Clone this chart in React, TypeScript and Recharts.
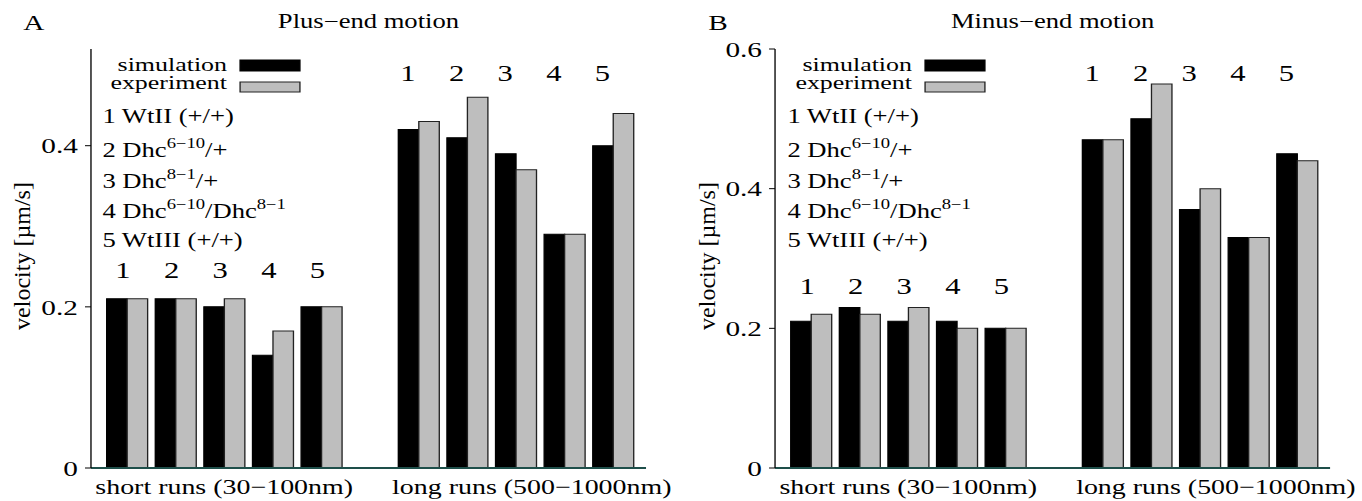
import React from "react";
import { BarChart, Bar, XAxis, YAxis, ReferenceDot } from "recharts";

// the reference is a 1024px wide figure stretched to 1362px, so everything is laid out at 1024 and scaled
const STRETCH = 1362 / 1024;
const SERIF = '"Liberation Serif", "Times New Roman", serif';

const strains = ["1", "2", "3", "4", "5"];
const groupTitles = ["short runs (30\u2212100nm)", "long runs (500\u22121000nm)"];

const plusSimShort = [0.21, 0.21, 0.2, 0.14, 0.2];
const plusExpShort = [0.21, 0.21, 0.21, 0.17, 0.2];
const plusSimLong = [0.42, 0.41, 0.39, 0.29, 0.4];
const plusExpLong = [0.43, 0.46, 0.37, 0.29, 0.44];

const minusSimShort = [0.21, 0.23, 0.21, 0.21, 0.2];
const minusExpShort = [0.22, 0.22, 0.23, 0.2, 0.2];
const minusSimLong = [0.47, 0.5, 0.37, 0.33, 0.45];
const minusExpLong = [0.47, 0.55, 0.4, 0.33, 0.44];

const plusTicks = [0, 0.2, 0.4];
const minusTicks = [0, 0.2, 0.4, 0.6];
// heights of the "1 2 3 4 5" labels above each group
const plusLabelHeights = [0.245, 0.49];
const minusLabelHeights = [0.26, 0.565];

const legendSeries = ["simulation", "experiment"];

type Row = { key: string; sim: number | null; exp: number | null };

function buildRows(simShort: number[], expShort: number[], simLong: number[], expLong: number[]): Row[] {
  const rows: Row[] = [];
  strains.forEach((s, i) => rows.push({ key: `short-${s}`, sim: simShort[i], exp: expShort[i] }));
  rows.push({ key: "gap", sim: null, exp: null });
  strains.forEach((s, i) => rows.push({ key: `long-${s}`, sim: simLong[i], exp: expLong[i] }));
  return rows;
}

const plusRows = buildRows(plusSimShort, plusExpShort, plusSimLong, plusExpLong);
const minusRows = buildRows(minusSimShort, minusExpShort, minusSimLong, minusExpLong);

function GroupTick(props: any) {
  const { x, y, payload } = props;
  let label = "";
  let shift = 0;
  if (payload.value === "short-3") label = groupTitles[0];
  if (payload.value === "long-3") {
    label = groupTitles[1];
    shift = 12;
  }
  if (!label) return null;
  return (
    <text x={x + shift} y={y} dy={26} textAnchor="middle" fontFamily={SERIF} fontSize={21} fill="#000">
      {label}
    </text>
  );
}

function StrainLabel(props: any) {
  const { viewBox, text, shift } = props;
  const cx = viewBox.x + viewBox.width / 2;
  const cy = viewBox.y + viewBox.height / 2;
  return (
    <text x={cx + shift} y={cy} textAnchor="middle" dominantBaseline="central" fontFamily={SERIF} fontSize={23} fill="#000">
      {text}
    </text>
  );
}

function Panel({
  rows,
  domainMax,
  ticks,
  labelHeights,
  marginLeft,
  marginRight,
}: {
  rows: Row[];
  domainMax: number;
  ticks: number[];
  labelHeights: number[];
  marginLeft: number;
  marginRight: number;
}) {
  return (
    <BarChart
      width={512}
      height={501}
      data={rows}
      margin={{ top: 49, right: marginRight, bottom: 3, left: marginLeft }}
      barGap={0}
      barSize={15.4}
    >
      <XAxis
        dataKey="key"
        interval={0}
        padding={{ left: 8.8, right: 6.5 }}
        tickLine={false}
        tickSize={0}
        tickMargin={0}
        axisLine={{ stroke: "#1e4f4a", strokeWidth: 2 }}
        tick={<GroupTick />}
        height={30}
      />
      <XAxis
        xAxisId="top"
        orientation="top"
        dataKey="key"
        tick={false}
        tickLine={false}
        axisLine={{ stroke: "#000" }}
        height={0}
      />
      <YAxis
        type="number"
        domain={[0, domainMax]}
        ticks={ticks}
        width={50}
        tickSize={4.5}
        tickMargin={5.3}
        axisLine={{ stroke: "#000" }}
        tickLine={{ stroke: "#000" }}
        tick={{ fontFamily: SERIF, fontSize: 22, fill: "#000" }}
      />
      <YAxis
        yAxisId="right"
        orientation="right"
        type="number"
        mirror
        domain={[0, domainMax]}
        ticks={ticks.filter((t) => t > 0 && t < domainMax)}
        width={0}
        tickSize={4.5}
        tick={false}
        axisLine={{ stroke: "#000" }}
        tickLine={{ stroke: "#000" }}
      />
      <Bar dataKey="sim" fill="#000" stroke="#000" strokeWidth={1} isAnimationActive={false} />
      <Bar dataKey="exp" fill="#bebebe" stroke="#222" strokeWidth={1} isAnimationActive={false} />
      {strains.map((s) => (
        <ReferenceDot
          key={`ls-${s}`}
          x={`short-${s}`}
          y={labelHeights[0]}
          r={1}
          fill="none"
          stroke="none"
          label={<StrainLabel text={s} shift={-3} />}
        />
      ))}
      {strains.map((s) => (
        <ReferenceDot
          key={`ll-${s}`}
          x={`long-${s}`}
          y={labelHeights[1]}
          r={1}
          fill="none"
          stroke="none"
          label={<StrainLabel text={s} shift={-8} />}
        />
      ))}
    </BarChart>
  );
}

function Sup({ children }: { children: React.ReactNode }) {
  return (
    <tspan fontSize={14} dy={-9}>
      {children}
    </tspan>
  );
}

function Annotations({ dx, letter, title, titleX }: { dx: number; letter: string; title: string; titleX: number }) {
  const base = { fontFamily: SERIF, fill: "#000" } as const;
  return (
    <g>
      <text x={dx + 17.5} y={30} fontSize={22} {...base}>
        {letter}
      </text>
      <text x={titleX} y={28} fontSize={20} textAnchor="middle" {...base}>
        {title}
      </text>
      <text
        transform={`translate(${dx + 16.5},256) scale(${1 / STRETCH},1) rotate(-90)`}
        textAnchor="middle"
        dominantBaseline="central"
        fontSize={24}
        {...base}
      >
        velocity [{"\u00b5"}m/s]
      </text>
      <text x={dx + 170.7} y={71} fontSize={19.5} textAnchor="end" {...base}>
        {legendSeries[0]}
      </text>
      <rect x={dx + 180.5} y={60} width={45} height={11} fill="#000" stroke="#000" />
      <text x={dx + 170.7} y={89} fontSize={19.5} textAnchor="end" {...base}>
        {legendSeries[1]}
      </text>
      <rect x={dx + 180.5} y={82} width={45} height={10} fill="#bebebe" stroke="#222" />
      <text x={dx + 77} y={123} fontSize={20} {...base}>
        1 WtII (+/+)
      </text>
      <text x={dx + 77} y={157} fontSize={20} {...base}>
        2 Dhc<Sup>6{"\u2212"}10</Sup>
        <tspan dy={9}>/+</tspan>
      </text>
      <text x={dx + 77} y={188} fontSize={20} {...base}>
        3 Dhc<Sup>8{"\u2212"}1</Sup>
        <tspan dy={9}>/+</tspan>
      </text>
      <text x={dx + 77} y={218} fontSize={20} {...base}>
        4 Dhc<Sup>6{"\u2212"}10</Sup>
        <tspan dy={9}>/Dhc</tspan>
        <Sup>8{"\u2212"}1</Sup>
      </text>
      <text x={dx + 77} y={247} fontSize={20} {...base}>
        5 WtIII (+/+)
      </text>
    </g>
  );
}

export default function App() {
  return (
    <div
      style={{
        position: "absolute",
        left: 0,
        top: 0,
        width: 1024,
        height: 501,
        background: "#fff",
        transform: `scaleX(${STRETCH})`,
        transformOrigin: "0 0",
        overflow: "hidden",
      }}
    >
      <div style={{ position: "absolute", left: 0, top: 0 }}>
        <Panel
          rows={plusRows}
          domainMax={0.52}
          ticks={plusTicks}
          labelHeights={plusLabelHeights}
          marginLeft={18.4}
          marginRight={26.3}
        />
      </div>
      <div style={{ position: "absolute", left: 512, top: 0 }}>
        <Panel
          rows={minusRows}
          domainMax={0.6}
          ticks={minusTicks}
          labelHeights={minusLabelHeights}
          marginLeft={20.7}
          marginRight={24}
        />
      </div>
      <svg
        width={1024}
        height={501}
        style={{ position: "absolute", left: 0, top: 0, pointerEvents: "none", overflow: "visible" }}
      >
        <Annotations dx={0} letter="A" title={"Plus\u2212end motion"} titleX={277} />
        <Annotations dx={515} letter="B" title={"Minus\u2212end motion"} titleX={791.4} />
      </svg>
    </div>
  );
}
